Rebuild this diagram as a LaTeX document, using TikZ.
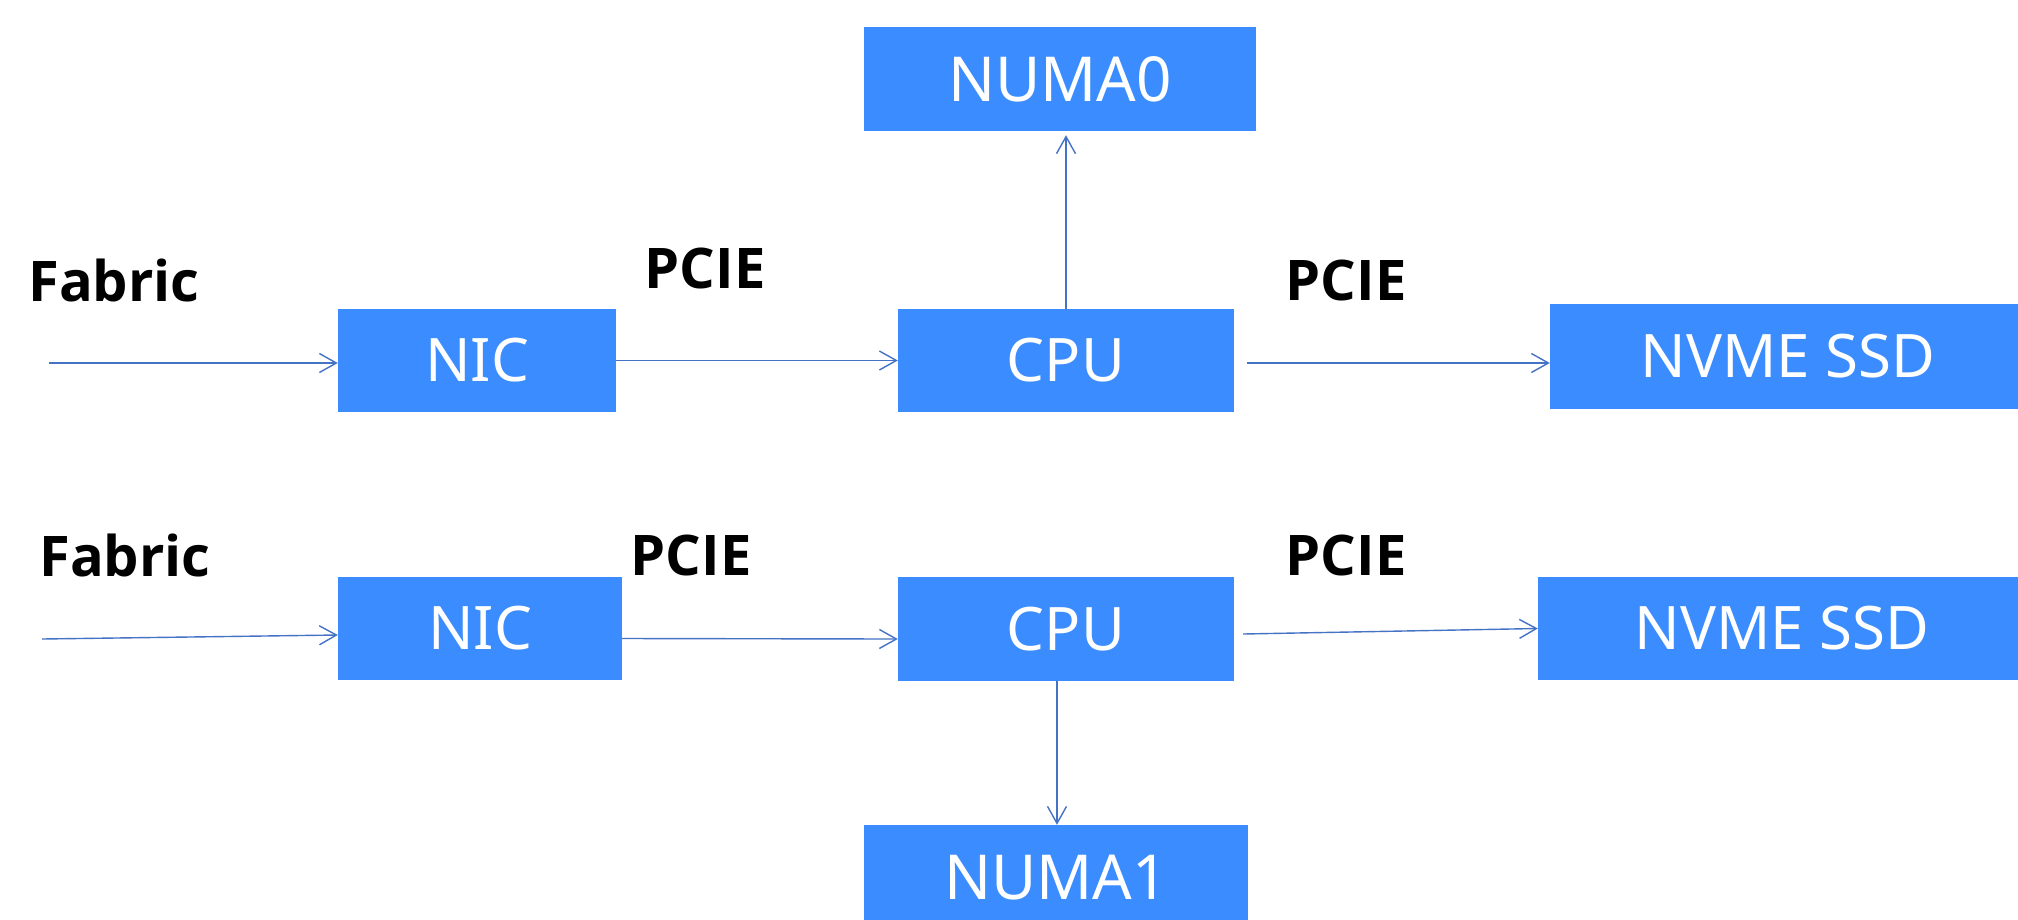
\documentclass[tikz,border=0pt]{standalone}
\usepackage{fontspec}
\setmainfont{Noto Sans}
\newfontfamily\tagfont{Open Sans}[BoldFont={* Bold}]
\usetikzlibrary{arrows.meta}
\definecolor{boxblue}{HTML}{3A8CFF}
\definecolor{linkblue}{HTML}{4472C4}
\begin{document}
\begin{tikzpicture}[x=1pt,y=-1pt,
  unit/.style={fill=boxblue, draw=none, inner sep=0pt, text=white,
    font=\fontsize{60}{72}\selectfont},
  numa/.style={unit, font=\fontsize{62}{74}\selectfont},
  tag/.style={inner sep=0pt, text=black, font=\tagfont\bfseries\fontsize{56}{68}\selectfont},
  link/.style={draw=linkblue, line width=1.4pt,
    -{Straight Barb[length=17pt,width=19pt,line width=1.4pt]}}]
\useasboundingbox (0,0) rectangle (2018,919);
\clip (0,0) rectangle (2018,919);

% upper path
\node[numa, minimum width=392pt, minimum height=104pt] (numa0) at (1060,79) {NUMA0};
\node[unit, minimum width=278pt, minimum height=103pt] (nicA) at (477,360.5) {NIC};
\node[unit, minimum width=336pt, minimum height=103pt] (cpuA) at (1066,360.5) {CPU};
\node[unit, minimum width=476pt, minimum height=105pt] (ssdA) at (1788,356) {NVME SSD};
\node[tag] (fabA) at (114,280) {Fabric};
\node[tag] (pcieA1) at (705,268) {PCIE};
\node[tag] (pcieA2) at (1346,280) {PCIE};
\coordinate (inA) at (49,363);

\draw[link] (inA) -- (inA -| nicA.west);
\draw[link] (nicA.east) -- (cpuA.west);
\draw[link] ([xshift=13pt,yshift=-2.5pt]cpuA.east) -- ([yshift=-2.5pt]cpuA.east -| ssdA.west);
\draw[link, shorten >=4pt] (cpuA.north) -- (cpuA.north |- numa0.south);

% lower path
\node[unit, minimum width=284pt, minimum height=103pt] (nicB) at (480,628.5) {NIC};
\node[unit, minimum width=336pt, minimum height=104pt] (cpuB) at (1066,629) {CPU};
\node[unit, minimum width=488pt, minimum height=103pt] (ssdB) at (1782,628.5) {NVME SSD};
\node[numa, minimum width=384pt, minimum height=106pt] (numa1) at (1056,878) {NUMA1};
\node[tag] (fabB) at (125,555) {Fabric};
\node[tag] (pcieB1) at (691,555) {PCIE};
\node[tag] (pcieB2) at (1346,555) {PCIE};
\coordinate (inB) at (42,639);

\draw[link] (inB) -- ([yshift=-6.5pt]nicB.west);
\draw[link] ([yshift=-10pt]nicB.east) -- ([yshift=-10pt]cpuB.west);
\draw[link] ([xshift=9pt,yshift=-5pt]cpuB.east) -- (ssdB.west);
\draw[link] ([xshift=-9pt]cpuB.south) -- ([xshift=-9pt]cpuB.south |- numa1.north);
\end{tikzpicture}
\end{document}
